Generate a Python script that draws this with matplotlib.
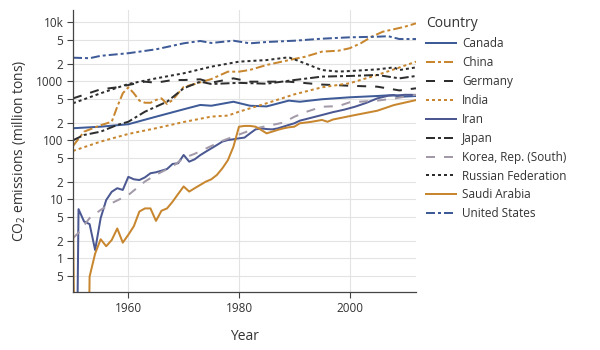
import matplotlib
matplotlib.use("Agg")
import matplotlib.pyplot as plt
from matplotlib.ticker import FixedLocator, FixedFormatter, NullLocator

plt.rcParams['font.family'] = ['Open Sans', 'DejaVu Sans']
plt.rcParams['lines.scale_dashes'] = False

# ---------------- data ----------------
us_years = [1950, 1953, 1955, 1958, 1960, 1965, 1970, 1973, 1975, 1979, 1982, 1985, 1990, 1995, 2000, 2005, 2007, 2009, 2012]
us_vals = [2510, 2460, 2700, 2870, 2990, 3480, 4400, 4820, 4460, 4870, 4400, 4630, 4870, 5270, 5560, 5700, 5800, 5200, 5200]

china_years = [1950, 1952, 1955, 1957, 1958, 1959, 1960, 1961, 1962, 1963, 1964, 1965, 1966, 1967, 1968, 1969, 1970, 1972,
               1975, 1978, 1980, 1982, 1985, 1990, 1992, 1995, 1998, 2000, 2002, 2004, 2006, 2008, 2010, 2012]
china_vals = [80, 140, 180, 206, 371, 626, 790, 626, 470, 433, 432, 482, 513, 412, 482, 626, 800, 900,
              1090, 1455, 1455, 1560, 1890, 2390, 2610, 3180, 3300, 3630, 4400, 5700, 6920, 7620, 8420, 9600]

germany_years = [1950, 1955, 1958, 1960, 1963, 1965, 1968, 1970, 1973, 1975, 1979, 1982, 1985, 1989, 1991, 1995, 2000, 2005, 2009, 2012]
germany_vals = [513, 731, 790, 865, 985, 946, 1050, 1050, 1080, 946, 1120, 985, 985, 985, 950, 880, 840, 810, 700, 760]

india_years = [1950, 1955, 1960, 1965, 1970, 1975, 1978, 1980, 1985, 1990, 1995, 2000, 2005, 2008, 2012]
india_vals = [66, 95, 128, 160, 204, 252, 262, 305, 424, 600, 790, 925, 1280, 1590, 2150]

canada_years = [1950, 1955, 1960, 1965, 1970, 1973, 1975, 1979, 1982, 1985, 1989, 1991, 1995, 2000, 2005, 2008, 2009, 2012]
canada_vals = [160, 170, 187, 251, 335, 397, 385, 450, 385, 375, 470, 450, 496, 535, 563, 585, 545, 563]

iran_years = list(range(1950, 1992)) + [1993, 1995, 1997, 1999, 2001, 2003, 2005, 2007, 2009, 2010, 2011, 2012]
iran_vals = [1e-8, 6.8, 4.2, 3.8, 1.38, 4.8, 9.7, 13.4, 15.4, 14.4,
             24, 21.8, 21.2, 23.5, 27.6, 28.7, 30.5, 32.6, 39.7, 40.8,
             56.4, 43.4, 47.6, 56, 64, 73, 83, 95, 101, 104,
             108, 111, 131, 153, 159, 155, 153, 159, 170, 182,
             194, 215,
             240, 268, 300, 330, 371, 430, 513, 570, 580, 590, 590, 586]

japan_years = [1950, 1952, 1955, 1958, 1960, 1963, 1965, 1967, 1970, 1973, 1975, 1980, 1985, 1990, 1995, 2000, 2005, 2009, 2012]
japan_vals = [100, 123, 140, 182, 206, 305, 371, 451, 760, 985, 900, 940, 910, 1050, 1200, 1230, 1280, 1120, 1230]

korea_years = [1950, 1951, 1953, 1955, 1957, 1960, 1963, 1965, 1968, 1970, 1972, 1977, 1980, 1983, 1988, 1990, 1992, 1995, 1998, 2000, 2005, 2008, 2012]
korea_vals = [2.2, 2.7, 4.8, 6.6, 8.6, 11.8, 20, 26, 36, 50, 59, 98, 125, 159, 199, 250, 300, 370, 380, 440, 470, 510, 590]

russia_years = [1950, 1955, 1960, 1965, 1970, 1975, 1980, 1985, 1989, 1992, 1995, 1998, 2000, 2005, 2008, 2009, 2012]
russia_vals = [424, 626, 900, 1120, 1365, 1770, 2150, 2290, 2550, 2000, 1550, 1460, 1490, 1590, 1720, 1550, 1720]

saudi_years = list(range(1950, 1992)) + [1993, 1995, 1996, 1997, 2001, 2005, 2008, 2012]
saudi_vals = [5.0, 1e-8, 1e-8, 0.49, 1.2, 2.1, 1.6, 2.04, 3.2, 1.84,
              2.5, 3.5, 6.2, 7.0, 7.0, 4.3, 6.4, 7.0, 9.1, 12.3,
              16.5, 13.5, 15.4, 17.5, 19.9, 21.8, 25.8, 33.5, 46, 78,
              170, 175, 175, 170, 150, 131, 140, 150, 159, 166,
              170, 194,
              205, 221, 206, 225, 268, 317, 395, 480]

countries = ["Canada", "China", "Germany", "India", "Iran", "Japan",
             "Korea, Rep. (South)", "Russian Federation", "Saudi Arabia", "United States"]
series = [(canada_years, canada_vals), (china_years, china_vals), (germany_years, germany_vals),
          (india_years, india_vals), (iran_years, iran_vals), (japan_years, japan_vals),
          (korea_years, korea_vals), (russia_years, russia_vals), (saudi_years, saudi_vals),
          (us_years, us_vals)]

y_ticks = [0.5, 1, 2, 5, 10, 20, 50, 100, 200, 500, 1000, 2000, 5000, 10000]
y_tick_labels = ["5", "1", "2", "5", "10", "2", "5", "100", "2", "5", "1000", "2", "5", "10k"]
x_ticks = [1960, 1980, 2000]

# ---------------- styles ----------------
px = 0.72
solid = '-'
dot = (0, (3 * px, 3 * px))
dash = (0, (9 * px, 9 * px))
dashdot = (0, (9 * px, 3 * px, 3 * px, 3 * px))
blue = '#3e5b98'
orange = '#c8862e'
dark = '#2e2e2e'
styles = [
    (blue, solid),
    (orange, dashdot),
    (dark, dash),
    (orange, dot),
    ('#4b5892', solid),
    (dark, dashdot),
    ('#a39aa9', dash),
    (dark, dot),
    (orange, solid),
    (blue, dashdot),
]

fig = plt.figure(figsize=(6, 3.5), dpi=100)
ax = fig.add_axes([73 / 600, 1 - 292.3 / 350, (416 - 73) / 600, (292.3 - 10) / 350])

for name, (xs, ys), (c, ls) in zip(countries, series, styles):
    ax.plot(xs, ys, color=c, linestyle=ls, lw=2 * px, label=name)

ax.set_yscale('log')
ax.set_ylim(0.265, 16150)
ax.set_xlim(1950, 2012)

ax.yaxis.set_major_locator(FixedLocator(y_ticks))
ax.yaxis.set_major_formatter(FixedFormatter(y_tick_labels))
ax.yaxis.set_minor_locator(NullLocator())
ax.set_xticks(x_ticks)
ax.set_xticklabels([str(v) for v in x_ticks])

txt = '#333333'
ax.tick_params(axis='both', labelsize=8.5, colors='#444444', labelcolor=txt, length=4, width=0.8, pad=3)
ax.grid(True, color='#e3e3e3', lw=0.8)
ax.set_axisbelow(True)
for s in ['top', 'right']:
    ax.spines[s].set_visible(False)
for s in ['left', 'bottom']:
    ax.spines[s].set_color('#444444')
    ax.spines[s].set_linewidth(0.9)

ax.set_xlabel('Year', fontsize=10, color=txt, labelpad=10)
ax.set_ylabel(r'CO$_\mathregular{2}$ emissions (million tons)', fontsize=10, color=txt, labelpad=6)

leg = fig.legend(loc='upper left', bbox_to_anchor=(424 / 600, 1 - 14 / 350), frameon=False,
                 fontsize=8.5, title='Country', title_fontsize=10, alignment='left',
                 handlelength=2.5, handletextpad=0.55, labelspacing=0.5, borderaxespad=0, borderpad=0.2)
for t in leg.get_texts():
    t.set_color(txt)
leg.get_title().set_color(txt)

fig.savefig('out.png', dpi=100)
